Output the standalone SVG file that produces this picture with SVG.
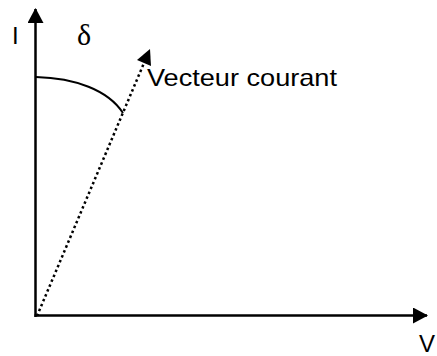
<svg xmlns="http://www.w3.org/2000/svg" width="437" height="356" viewBox="0 0 437 356">
<style>
.ax{stroke:#000;stroke-width:2.5;fill:none}
.lbl{font-family:"Liberation Sans",Arial,sans-serif;font-size:24px;fill:#000}
</style>
<defs>
<marker id="ah" viewBox="0 0 15 16" refX="14" refY="8" markerWidth="15" markerHeight="16" markerUnits="userSpaceOnUse" orient="auto"><path d="M0,0 L15,8 L0,16 z" fill="#000"/></marker>
</defs>
<g id="connectors">
<line class="ax" x1="35.5" y1="317" x2="35.5" y2="9" marker-end="url(#ah)"/>
<line class="ax" x1="34.5" y1="315.5" x2="427" y2="315.5" marker-end="url(#ah)"/>
<line x1="37" y1="316" x2="144" y2="63" stroke="#000" stroke-width="2.5" stroke-dasharray="2.5 2.8"/>
<polygon points="150,49 137,60 151,66" fill="#000"/>
<path d="M36,77 C75,78 108,90 123,113" fill="none" stroke="#000" stroke-width="2"/>
</g>
<g id="labels">
<text class="lbl" x="12" y="44">I</text>
<text x="77" y="45" font-family="'Liberation Serif','Times New Roman',serif" font-size="30">δ</text>
<text class="lbl" x="147" y="86" font-size="26" textLength="190" lengthAdjust="spacingAndGlyphs">Vecteur courant</text>
<text class="lbl" x="419" y="352">V</text>
</g>
</svg>
